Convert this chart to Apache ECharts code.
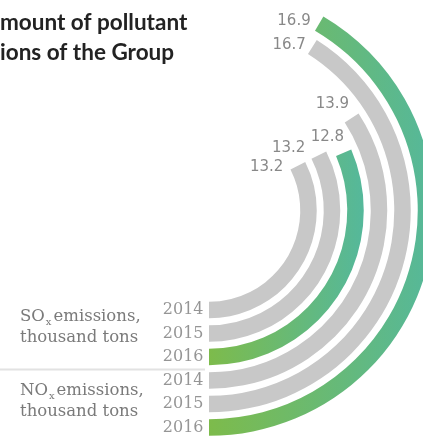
<!DOCTYPE html>
<html><head><meta charset="utf-8">
<script src="https://cdn.jsdelivr.net/npm/echarts@6/dist/echarts.min.js"></script>
<style>html,body{margin:0;padding:0;background:#fff;overflow:hidden}#c{width:423px;height:436px}</style>
</head><body><div id="c"></div>
<script>
// ---- data ----
const categories = ['SOx 2014', 'SOx 2015', 'SOx 2016', 'NOx 2014', 'NOx 2015', 'NOx 2016'];
const years = ['2014', '2015', '2016', '2014', '2015', '2016'];
const values = [13.2, 13.2, 12.8, 13.9, 16.7, 16.9];
const isCurrent = [false, false, true, false, false, true];
const groupNames = ['SO', 'NO'];
const titleLines = ['Total amount of pollutant', 'emissions of the Group'];
const titleHidden = ['Total a', 'emiss'];

// ---- style ----
const labelNudge = [[-14, 1], [-13, -7], [1, -16], [-2, -14], [-6, -2], [-8, -2]];
const GRAY = '#c8c8c8';
const green = () => new echarts.graphic.LinearGradient(0, 0, 1, 0, [
  { offset: 0, color: '#7dbb4b' }, { offset: 1, color: '#55b89b' }
]);
const serif = '"DejaVu Serif", serif';
const sans = '"DejaVu Sans", sans-serif';
const titleFont = '700 22.5px Lato';

const mctx = document.createElement('canvas').getContext('2d');
mctx.font = titleFont;
const tw = s => mctx.measureText(s).width;

const chart = echarts.init(document.getElementById('c'), null, { renderer: 'canvas' });

const groupText = (name, y) => ({
  type: 'text', left: 20, top: y,
  style: {
    text: '{a|' + name + '}{s|x}{a|emissions,}\n{a|thousand tons}',
    rich: {
      a: { fontFamily: serif, fontSize: 16.5, fill: '#7a7a7a', lineHeight: 21 },
      s: { fontFamily: serif, fontSize: 10, fill: '#7a7a7a', lineHeight: 21, verticalAlign: 'bottom', padding: [0, 2, 0, 1] }
    }
  }
});

chart.setOption({
  animation: false,
  polar: { center: [209, 210.5], radius: [87.75, 228.75] },
  angleAxis: {
    type: 'value', min: 0, max: 40.7, startAngle: 270, clockwise: false,
    axisLine: { show: false }, axisTick: { show: false }, axisLabel: { show: false }, splitLine: { show: false }
  },
  radiusAxis: {
    type: 'category', data: categories,
    axisLine: { show: false }, axisTick: { show: false }, axisLabel: { show: false }, splitLine: { show: false }
  },
  series: [
    {
      type: 'bar', coordinateSystem: 'polar', barWidth: 16.5,
      data: values.map((v, i) => ({ value: v, itemStyle: { color: isCurrent[i] ? green() : GRAY } }))
    },
    {
      type: 'scatter', coordinateSystem: 'polar', symbolSize: 1, itemStyle: { color: 'rgba(0,0,0,0)' },
      data: values.map((v, i) => ({
        value: [i, v],
        label: {
          show: true, position: 'left', distance: 0, offset: labelNudge[i],
          formatter: String(v), fontFamily: sans, fontSize: 15, color: '#6a6a6a'
        }
      }))
    },
    {
      type: 'scatter', coordinateSystem: 'polar', symbolSize: 1, itemStyle: { color: 'rgba(0,0,0,0)' },
      data: years.map((y, i) => ({
        value: [i, 0],
        label: {
          show: true, position: 'left', distance: 5, offset: [0, 0],
          formatter: y, fontFamily: serif, fontSize: 16, color: '#7a7a7a'
        }
      }))
    }
  ],
  graphic: [
    { type: 'text', x: -tw(titleHidden[0]), y: 23, style: { text: titleLines[0], font: titleFont, fill: '#222', textVerticalAlign: 'middle' } },
    { type: 'text', x: -tw(titleHidden[1]), y: 53, style: { text: titleLines[1], font: titleFont, fill: '#222', textVerticalAlign: 'middle' } },
    groupText(groupNames[0], 308),
    groupText(groupNames[1], 382),
    { type: 'line', shape: { x1: 0, y1: 369.5, x2: 205, y2: 369.5 }, style: { stroke: '#e2e2e2', lineWidth: 2 } }
  ]
});
</script></body></html>
